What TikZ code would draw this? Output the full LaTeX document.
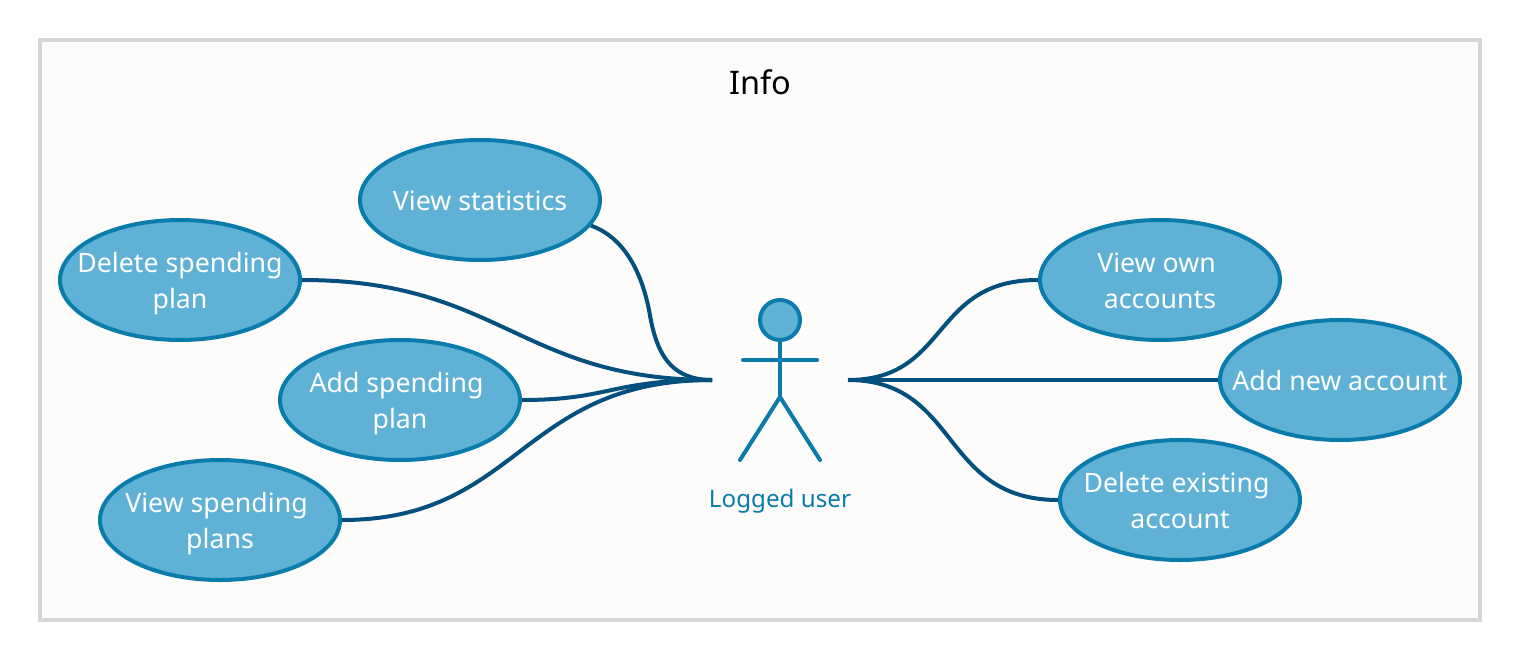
\documentclass[tikz,border=0pt]{standalone}
\usepackage{fontspec}
\setmainfont{Noto Sans}
\usepackage{xcolor}
\usetikzlibrary{positioning,shapes.geometric}
\definecolor{framegray}{HTML}{D6D6D6}
\definecolor{framefill}{HTML}{FDFCFB}
\definecolor{casefill}{HTML}{5FB1D6}
\definecolor{caseline}{HTML}{0A7CAC}
\definecolor{linkline}{HTML}{03507F}
\newcommand{\casestrut}{\rule[-7.5pt]{0pt}{36pt}}
\newcommand{\casegap}{\rule{7pt}{0pt}}

\begin{document}
\begin{tikzpicture}[
  x=1pt, y=-1pt,
  usecase/.style={draw=caseline, fill=casefill, ellipse, line width=4pt,
    minimum width=240pt, minimum height=120pt, inner xsep=-30pt, inner ysep=-20pt,
    font=\fontsize{26.7}{36}\selectfont, text=white, align=center,
    execute at end node=\casestrut},
  head/.style={draw=caseline, fill=casefill, circle, line width=4pt, minimum size=40pt, inner sep=0pt},
  stick/.style={draw=caseline, line width=4pt, line cap=round},
  link/.style={draw=linkline, line width=4pt},
  lbl/.style={font=\fontsize{24.2}{30}\selectfont},
]
\useasboundingbox (0,0) rectangle (1521,661);

% Frame and title
\node[draw=framegray, fill=framefill, line width=4pt, minimum width=1440pt, minimum height=580pt,
  inner sep=0pt] (frame) at (760,330) {};
\node[font=\fontsize{32.5}{36}\selectfont, text=black] (title) at (760,82) {Info};

% Actor
\node[head] (userhead) at (780,320) {};
\coordinate (armL) at (743,360);
\coordinate (armR) at (817,360);
\coordinate (hip) at (780,397);
\coordinate (footL) at (740,460);
\coordinate (footR) at (820,460);
\draw[stick] (userhead) -- (hip);
\draw[stick] (armL) -- (armR);
\draw[stick] (footL) -- (hip) -- (footR);
\node[lbl, text=caseline] (user) at (780,501) {Logged user};
\coordinate (userL) at (712,380);
\coordinate (userR) at (848,380);

% Left use cases
\node[usecase] (viewstats) at (480,200) {\casestrut View statistics};
\node[usecase] (delplan) at (180,280) {\casestrut Delete spending\\plan};
\node[usecase] (addplan) at (400,400) {\casestrut Add spending\casegap\\plan};
\node[usecase] (viewplans) at (220,520) {\casestrut View spending\casegap\\plans};

% Right use cases
\node[usecase] (viewown) at (1160,280) {\casestrut View own\casegap\\accounts};
\node[usecase] (addacc) at (1340,380) {\casestrut Add new account};
\node[usecase] (delacc) at (1180,500) {\casestrut Delete existing\casegap\\account};

% Links
\draw[link] (viewstats.-13) .. controls (620,236) and (640,265) .. (649,310) .. controls (655,345) and (665,380) .. (userL);
\draw[link] (delplan.east) .. controls (500,280) and (520,380) .. (userL);
\draw[link] (addplan.east) .. controls (610,400) and (610,380) .. (userL);
\draw[link] (viewplans.east) .. controls (520,520) and (520,380) .. (userL);
\draw[link] (userR) .. controls (950,380) and (930,280) .. (viewown.west);
\draw[link] (userR) -- (addacc.west);
\draw[link] (userR) .. controls (960,380) and (940,500) .. (delacc.west);

\end{tikzpicture}
\end{document}
